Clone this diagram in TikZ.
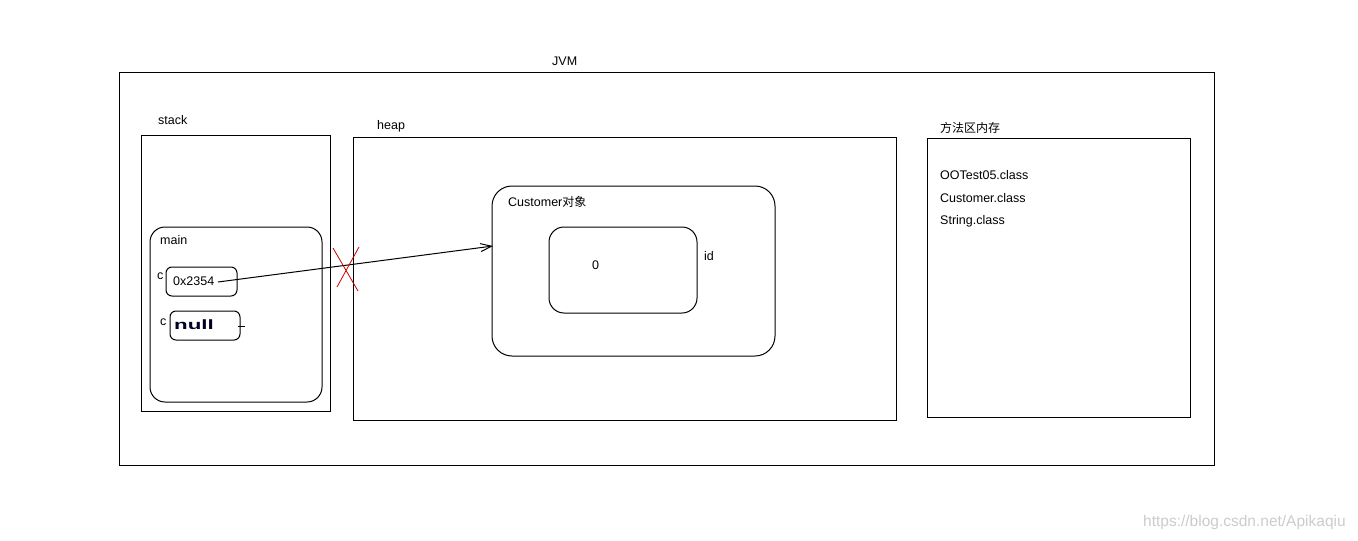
\documentclass[tikz,border=0pt]{standalone}
\usepackage{fontspec}
\setmainfont{Liberation Sans}
\newfontfamily\cjk{Noto Sans CJK SC}
\usetikzlibrary{arrows.meta}
\tikzset{
  box/.style={draw, line width=1pt, inner sep=0pt},
  rbox/.style={box, rounded corners=#1},
  lbl/.style={anchor=west, inner sep=0pt, font=\fontsize{12.5}{14}\selectfont},
}
\begin{document}
\begin{tikzpicture}[x=1pt,y=-1pt]
\useasboundingbox[fill=white] (0,0) rectangle (1358,541);
% frames
\node[box, minimum width=1095, minimum height=393] (jvm) at (666.5,268.5) {};
\node[box, minimum width=189, minimum height=276] (stack) at (235.5,273) {};
\node[rbox=15pt, minimum width=172, minimum height=175] (main) at (236,314.5) {};
\node[rbox=6pt, minimum width=71, minimum height=29] (ref1) at (201.5,281.5) {};
\node[rbox=6pt, minimum width=70, minimum height=29] (ref2) at (205,325.5) {};
\node[box, minimum width=543, minimum height=283] (heap) at (624.5,278.5) {};
\node[rbox=20pt, minimum width=283, minimum height=170] (cust) at (633.5,271) {};
\node[rbox=15pt, minimum width=148, minimum height=86] (field) at (623,270) {};
\node[box, minimum width=263, minimum height=279] (method) at (1058.5,277.5) {};
% labels
\node[lbl] (tjvm) at (552,61) {JVM};
\node[lbl] (tstack) at (158,120) {stack};
\node[lbl] (theap) at (377,126) {heap};
\node[lbl] (tmethod) at (940,128) {\cjk\fontsize{12}{14}\selectfont 方法区内存};
\node[lbl] (tmain) at (160,240) {main};
\node[lbl] (tc1) at (157,276) {c};
\node[lbl] (tc2) at (160,322) {c};
\node[lbl] (tval1) at (173,281) {0x2354};
\node[lbl, text=black!85!blue, font=\fontsize{13.5}{15}\bfseries] (tval2) at (174,325) {\scalebox{1.65}[1]{null}};
\node[lbl] (tcust) at (508,202) {Customer{\cjk\fontsize{12}{14}\selectfont 对象}};
\node[lbl] (tzero) at (592,265) {0};
\node[lbl] (tid) at (704,256) {id};
\node[lbl] (tcls1) at (940,175) {OOTest05.class};
\node[lbl] (tcls2) at (940,198) {Customer.class};
\node[lbl] (tcls3) at (940,221) {String.class};
\node[lbl, text=black!20, font=\fontsize{15.5}{17}\selectfont] (wm) at (1143,522) {https://blog.csdn.net/Apikaqiu};
% reference arrow
\coordinate (from) at (218,282);
\coordinate (tip) at (493,246);
\draw[line width=1pt, -{Straight Barb[length=11pt,width=8pt]}] (from) -- (tip);
\draw[line width=1pt] ([xshift=-3pt,yshift=-1pt]ref2.east) -- ++(7,0);
% red cross
\coordinate (x1) at (333,248);
\coordinate (x2) at (358,291);
\coordinate (x3) at (359,247);
\coordinate (x4) at (337,287);
\draw[red!80!black, line width=0.8pt] (x1) -- (x2) (x3) -- (x4);
\end{tikzpicture}
\end{document}
